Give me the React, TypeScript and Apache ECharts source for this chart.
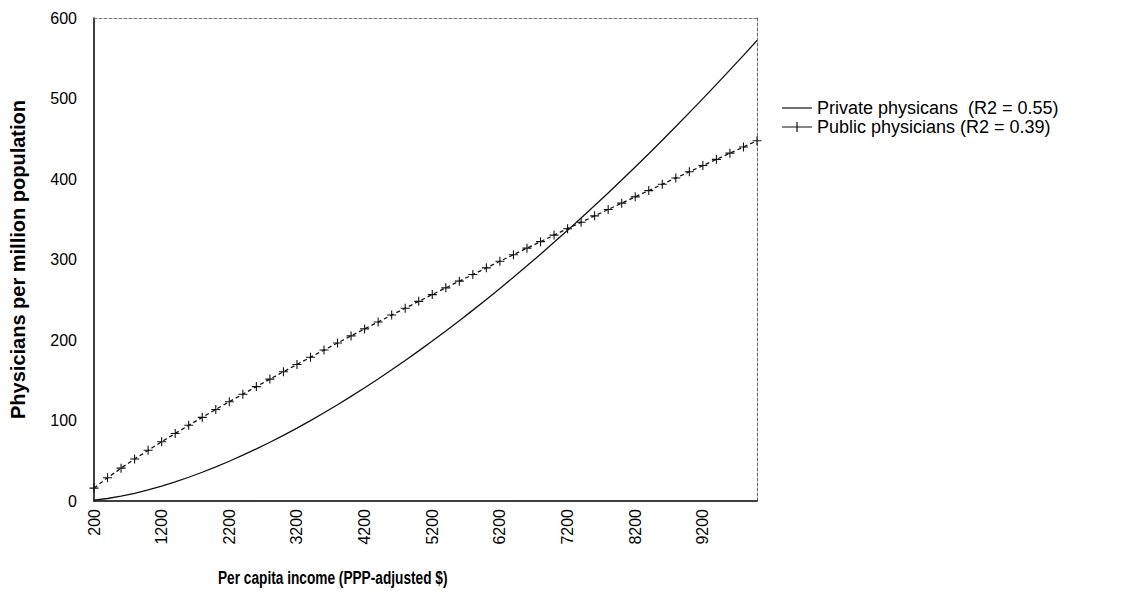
import React, { useEffect, useRef } from "react";
import * as echarts from "echarts";

const incomeCategories = [
  "200", "400", "600", "800", "1000", "1200", "1400", "1600", "1800", "2000",
  "2200", "2400", "2600", "2800", "3000", "3200", "3400", "3600", "3800", "4000",
  "4200", "4400", "4600", "4800", "5000", "5200", "5400", "5600", "5800", "6000",
  "6200", "6400", "6600", "6800", "7000", "7200", "7400", "7600", "7800", "8000",
  "8200", "8400", "8600", "8800", "9000", "9200", "9400", "9600", "9800", "10000",
];

const privateValues = [
  1.0, 3.1, 6.1, 9.6, 13.8, 18.6, 23.8, 29.5, 35.7, 42.4,
  49.4, 56.9, 64.8, 73.0, 81.6, 90.6, 99.9, 109.6, 119.6, 130.0,
  140.7, 151.6, 163.0, 174.5, 186.5, 198.7, 211.2, 224.0, 237.1, 250.4,
  264.1, 277.9, 292.1, 306.5, 321.3, 336.2, 351.5, 367.0, 382.7, 398.7,
  414.9, 431.4, 448.2, 465.2, 482.4, 499.8, 517.5, 535.5, 553.6, 572.0,
];

const publicValues = [
  16.0, 28.9, 40.8, 52.1, 63.0, 73.6, 83.9, 94.0, 103.9, 113.7,
  123.3, 132.7, 142.1, 151.4, 160.5, 169.6, 178.6, 187.5, 196.3, 205.1,
  213.8, 222.4, 231.0, 239.5, 248.0, 256.4, 264.8, 273.1, 281.4, 289.6,
  297.8, 306.0, 314.1, 322.2, 330.3, 338.3, 346.2, 354.2, 362.1, 370.0,
  377.8, 385.6, 393.5, 401.3, 409.0, 416.7, 424.4, 432.1, 439.8, 447.5,
];

const seriesNames = ["Private physicans  (R2 = 0.55)", "Public physicians (R2 = 0.39)"];
const yAxisTitle = "Physicians per million population";
const xAxisTitle = "Per capita income (PPP-adjusted $)";
const yMin = 0;
const yMax = 600;
const yInterval = 100;

const FONT = "'Liberation Sans', Arial, Helvetica, sans-serif";
const PLUS =
  "path://M-0.6,-5 L0.6,-5 L0.6,-0.6 L5,-0.6 L5,0.6 L0.6,0.6 L0.6,5 L-0.6,5 L-0.6,0.6 L-5,0.6 L-5,-0.6 L-0.6,-0.6 Z";
const LEGEND_LINE = "path://M0,4.4 L30,4.4 L30,5.6 L0,5.6 Z";
const LEGEND_LINE_PLUS =
  "path://M0,4.4 L14.4,4.4 L14.4,0 L15.6,0 L15.6,4.4 L30,4.4 L30,5.6 L15.6,5.6 L15.6,10 L14.4,10 L14.4,5.6 L0,5.6 Z";

export default function App() {
  const ref = useRef<HTMLDivElement>(null);

  useEffect(() => {
    if (!ref.current) return;
    const chart = echarts.init(ref.current, null, { renderer: "svg" });
    chart.setOption({
      animation: false,
      backgroundColor: "#ffffff",
      textStyle: { fontFamily: FONT, color: "#000" },
      grid: { left: 93, top: 18, right: 364, bottom: 96, containLabel: false },
      legend: {
        orient: "vertical",
        left: 782,
        top: 99,
        padding: 0,
        itemGap: 1,
        itemWidth: 30,
        itemHeight: 10,
        textStyle: { fontFamily: FONT, fontSize: 18, color: "#000" },
        data: [
          { name: seriesNames[0], icon: LEGEND_LINE },
          { name: seriesNames[1], icon: LEGEND_LINE_PLUS },
        ],
      },
      xAxis: [
        {
          type: "category",
          data: incomeCategories,
          boundaryGap: false,
          axisLine: { show: true, onZero: false, lineStyle: { color: "#000", width: 1.5 } },
          axisTick: { show: false },
          splitLine: { show: false },
          axisLabel: {
            interval: 4,
            rotate: 90,
            margin: 8,
            fontSize: 16,
            fontFamily: FONT,
            color: "#000",
          },
        },
        {
          type: "category",
          data: incomeCategories,
          boundaryGap: false,
          position: "top",
          axisLine: { show: true, onZero: false, lineStyle: { color: "#777", width: 1, type: [3, 2] } },
          axisTick: { show: false },
          axisLabel: { show: false },
          splitLine: { show: false },
        },
      ],
      yAxis: [
        {
          type: "value",
          min: yMin,
          max: yMax,
          interval: yInterval,
          name: yAxisTitle,
          nameLocation: "middle",
          nameGap: 66,
          nameTextStyle: { fontFamily: FONT, fontSize: 20, fontWeight: "bold", color: "#000" },
          axisLine: { show: true, onZero: false, lineStyle: { color: "#000", width: 1.5 } },
          axisTick: { show: false },
          splitLine: { show: false },
          axisLabel: { fontSize: 16, fontFamily: FONT, color: "#000", margin: 17 },
        },
        {
          type: "value",
          min: yMin,
          max: yMax,
          interval: yInterval,
          position: "right",
          axisLine: { show: true, onZero: false, lineStyle: { color: "#666", width: 1, type: [3, 2] } },
          axisTick: { show: false },
          axisLabel: { show: false },
          splitLine: { show: false },
        },
      ],
      graphic: [
        {
          type: "text",
          x: 218,
          y: 578,
          scaleX: 0.72,
          style: {
            text: xAxisTitle,
            font: `bold 19px ${FONT}`,
            fill: "#000",
            align: "left",
            verticalAlign: "middle",
          },
        },
      ],
      series: [
        {
          name: seriesNames[0],
          type: "line",
          data: privateValues,
          showSymbol: false,
          symbol: "none",
          lineStyle: { color: "#111", width: 1.3 },
          itemStyle: { color: "#111" },
        },
        {
          name: seriesNames[1],
          type: "line",
          data: publicValues,
          symbol: PLUS,
          symbolSize: 9,
          showAllSymbol: true,
          lineStyle: { color: "#111", width: 1.3, type: [4, 3] },
          itemStyle: { color: "#111" },
        },
      ],
    });
    return () => chart.dispose();
  }, []);

  return (
    <div
      ref={ref}
      style={{ position: "fixed", left: 0, top: 0, width: 1121, height: 597 }}
    />
  );
}
